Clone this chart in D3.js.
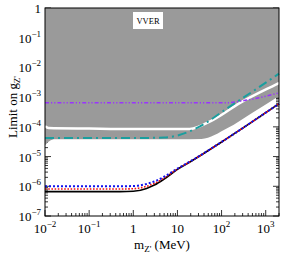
<!DOCTYPE html>
<html>
<head>
<meta charset="utf-8">
<title>VVER limit</title>
<script src="https://cdn.jsdelivr.net/npm/d3@7"></script>
<style>
  body { margin: 0; background: #fff; }
  text { font-family: "Liberation Serif", "DejaVu Serif", serif; fill: #000; }
</style>
</head>
<body>
<script>
// excluded region (gray), lower boundary
var grayM = [0.01, 0.0125, 0.017, 1, 10, 35, 137, 500, 2000];
var grayG = [2.4e-5, 3.3e-5, 3.8e-5, 3.8e-5, 3.8e-5, 3.9e-5, 9.1e-5, 3.0e-4, 1.1e-3];

// white gap inside the gray band
var gapM = [0.01, 0.012, 0.1, 1, 19, 63, 257, 1780, 2000];
var gapG = [1.05e-4, 9.2e-5, 8.8e-5, 8.5e-5, 8.5e-5, 1.7e-4, 6.3e-4, 2.75e-3, 3.0e-3];

// teal dash-dot
var tealM = [0.01, 1, 5, 11, 27, 150, 1780, 2000];
var tealG = [4.2e-5, 4.2e-5, 4.4e-5, 5.3e-5, 9.0e-5, 4.7e-4, 5.5e-3, 6.2e-3];

// purple dash-dot-dot
var purpM = [0.01, 130, 300, 700, 2000];
var purpG = [6.5e-4, 6.5e-4, 7.5e-4, 9.5e-4, 1.4e-3];

// lower curves
var lowM = [0.01, 0.5, 1, 2, 3, 5, 10, 20, 100, 1000, 2000];
var blackG = [6.6e-7, 6.6e-7, 6.8e-7, 8.5e-7, 1.1e-6, 1.75e-6, 3.7e-6, 6.8e-6, 3.1e-5, 3.0e-4, 6.0e-4];
var redG = [8.1e-7, 8.1e-7, 8.3e-7, 1.0e-6, 1.25e-6, 1.9e-6, 3.8e-6, 6.9e-6, 3.1e-5, 3.0e-4, 6.0e-4];
var blueG = [1.0e-6, 1.0e-6, 1.02e-6, 1.2e-6, 1.45e-6, 2.1e-6, 3.95e-6, 7.0e-6, 3.1e-5, 3.0e-4, 6.0e-4];

var xTicks = [0.01, 0.1, 1, 10, 100, 1000];
var xTickLabels = [["10", "−2"], ["10", "−1"], ["1", ""], ["10", ""], ["10", "2"], ["10", "3"]];
var yTicks = [1, 1e-1, 1e-2, 1e-3, 1e-4, 1e-5, 1e-6, 1e-7];
var yTickLabels = [["1", ""], ["10", "−1"], ["10", "−2"], ["10", "−3"], ["10", "−4"], ["10", "−5"], ["10", "−6"], ["10", "−7"]];

var W = 283, H = 255;
var L = 45, R = 279, T = 8, B = 216;

var svg = d3.select("body").append("svg")
  .attr("width", W).attr("height", H);

var x = d3.scaleLog().domain([0.01, 2000]).range([L, R]);
var y = d3.scaleLog().domain([1e-7, 1]).range([B, T]);

function pts(ms, gs) { return ms.map(function(m, i) { return [m, gs[i]]; }); }

// minor + major ticks, drawn first so the gray covers them
var g = svg.append("g");
var xMinor = [], yMinor = [];
for (var e = -2; e <= 3; e++) for (var k = 2; k <= 9; k++) { var v = k * Math.pow(10, e); if (v <= 2000) xMinor.push(v); }
for (var e2 = -7; e2 < 0; e2++) for (var k2 = 2; k2 <= 9; k2++) yMinor.push(k2 * Math.pow(10, e2));

xMinor.forEach(function(v) {
  g.append("line").attr("x1", x(v)).attr("x2", x(v)).attr("y1", B).attr("y2", B - 3).attr("stroke", "#000").attr("stroke-width", 0.8);
});
xTicks.forEach(function(v) {
  g.append("line").attr("x1", x(v)).attr("x2", x(v)).attr("y1", B).attr("y2", B - 6).attr("stroke", "#000").attr("stroke-width", 0.8);
});
yMinor.forEach(function(v) {
  g.append("line").attr("x1", L).attr("x2", L + 3).attr("y1", y(v)).attr("y2", y(v)).attr("stroke", "#000").attr("stroke-width", 0.8);
  g.append("line").attr("x1", R).attr("x2", R - 3).attr("y1", y(v)).attr("y2", y(v)).attr("stroke", "#000").attr("stroke-width", 0.8);
});
yTicks.forEach(function(v) {
  g.append("line").attr("x1", L).attr("x2", L + 6).attr("y1", y(v)).attr("y2", y(v)).attr("stroke", "#000").attr("stroke-width", 0.8);
  g.append("line").attr("x1", R).attr("x2", R - 6).attr("y1", y(v)).attr("y2", y(v)).attr("stroke", "#000").attr("stroke-width", 0.8);
});

// gray region
var area = d3.area()
  .x(function(d) { return x(d[0]); })
  .y0(function(d) { return y(d[1]); })
  .y1(y(1))
  .curve(d3.curveMonotoneX);
svg.append("path").datum(pts(grayM, grayG)).attr("d", area).attr("fill", "#9a9a9a");

var line = d3.line()
  .x(function(d) { return x(d[0]); })
  .y(function(d) { return y(d[1]); })
  .curve(d3.curveMonotoneX);

svg.append("path").datum(pts(gapM, gapG)).attr("d", line)
  .attr("fill", "none").attr("stroke", "#fff").attr("stroke-width", 2.5);

svg.append("path").datum(pts(purpM, purpG)).attr("d", line)
  .attr("fill", "none").attr("stroke", "#9933ff").attr("stroke-width", 1.5)
  .attr("stroke-dasharray", "4,2,1.2,2,1.2,2");

svg.append("path").datum(pts(tealM, tealG)).attr("d", line)
  .attr("fill", "none").attr("stroke", "#1a9e9e").attr("stroke-width", 2)
  .attr("stroke-dasharray", "9,4,2,4");

svg.append("path").datum(pts(lowM, blackG)).attr("d", line)
  .attr("fill", "none").attr("stroke", "#000").attr("stroke-width", 1.6);
svg.append("path").datum(pts(lowM, redG)).attr("d", line)
  .attr("fill", "none").attr("stroke", "#ee1111").attr("stroke-width", 1.6)
  .attr("stroke-dasharray", "1.6,1.6");
svg.append("path").datum(pts(lowM, blueG)).attr("d", line)
  .attr("fill", "none").attr("stroke", "#1111ee").attr("stroke-width", 2)
  .attr("stroke-dasharray", "2,2");

// frame
svg.append("rect").attr("x", L).attr("y", T).attr("width", R - L).attr("height", B - T)
  .attr("fill", "none").attr("stroke", "#000").attr("stroke-width", 1);

// VVER label
svg.append("rect").attr("x", 133).attr("y", 12).attr("width", 30).attr("height", 17).attr("fill", "#fff");
svg.append("text").attr("x", 148).attr("y", 24).attr("text-anchor", "middle")
  .attr("font-size", 8.5).text("VVER");

// tick labels
xTicks.forEach(function(v, i) {
  var t = svg.append("text").attr("y", 233).attr("font-size", 13).attr("text-anchor", "middle").attr("x", x(v));
  t.append("tspan").text(xTickLabels[i][0]);
  if (xTickLabels[i][1]) t.append("tspan").attr("dy", -6).attr("font-size", 9).text(xTickLabels[i][1]);
});
yTicks.forEach(function(v, i) {
  var t = svg.append("text").attr("y", y(v) + 5).attr("font-size", 13).attr("text-anchor", "end").attr("x", 41);
  t.append("tspan").text(yTickLabels[i][0]);
  if (yTickLabels[i][1]) t.append("tspan").attr("dy", -6).attr("font-size", 9).text(yTickLabels[i][1]);
});

// axis titles
var xt = svg.append("text").attr("x", 162).attr("y", 249).attr("text-anchor", "middle").attr("font-size", 13);
xt.append("tspan").text("m");
xt.append("tspan").attr("dy", 3).attr("font-size", 9).text("Z'");
xt.append("tspan").attr("dy", -3).text(" (MeV)");

var yt = svg.append("text").attr("transform", "translate(17,107) rotate(-90)")
  .attr("text-anchor", "middle").attr("font-size", 13);
yt.append("tspan").text("Limit on g");
yt.append("tspan").attr("dy", 3).attr("font-size", 9).text("Z'");
</script>
</body>
</html>
